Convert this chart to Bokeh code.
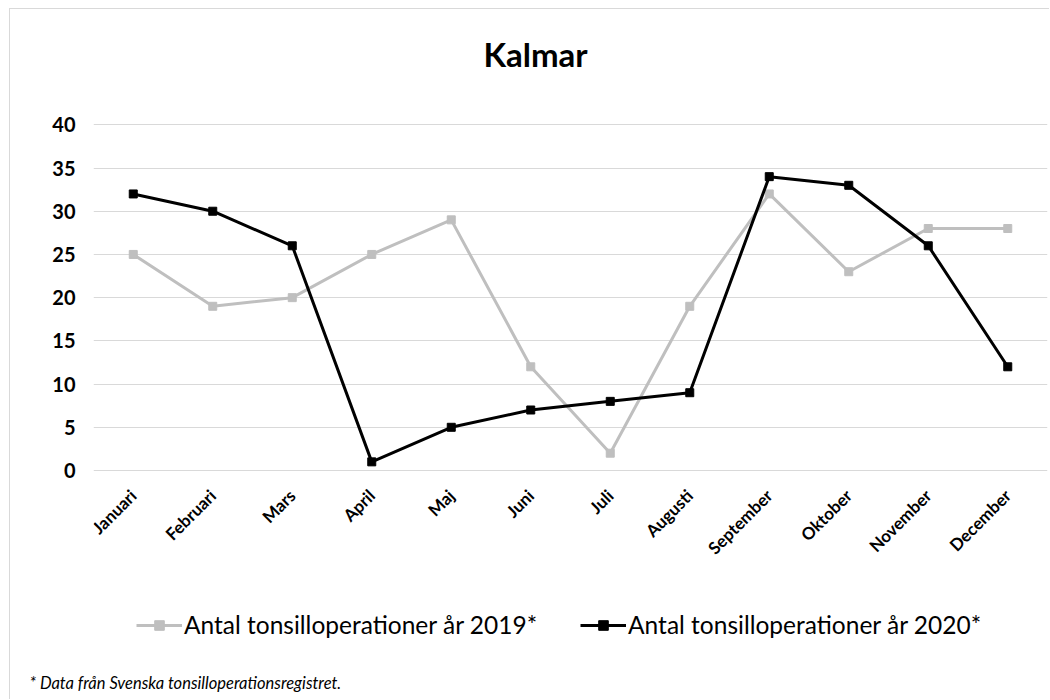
from bokeh.plotting import figure
from bokeh.models import Range1d, FactorRange, Legend, LegendItem, Title, Label, ColumnDataSource
from bokeh.core.properties import value
from bokeh.embed import file_html
from bokeh.resources import INLINE
from math import pi

months = ["Januari", "Februari", "Mars", "April", "Maj", "Juni", "Juli",
          "Augusti", "September", "Oktober", "November", "December"]
ops_2019 = [25, 19, 20, 25, 29, 12, 2, 19, 32, 23, 28, 28]
ops_2020 = [32, 30, 26, 1, 5, 7, 8, 9, 34, 33, 26, 12]
y_ticks = [0, 5, 10, 15, 20, 25, 30, 35, 40]
title_text = "Kalmar"
legend_2019 = "Antal tonsilloperationer år 2019*"
legend_2020 = "Antal tonsilloperationer år 2020*"
footnote = "* Data från Svenska tonsilloperationsregistret."

FONT = "Lato"

# frame spans page y 9..665 ; value 40 -> y 124.3, value 0 -> y 470
FRAME_BOTTOM = 665
PX_PER_UNIT = (470 - 124.3) / 40
Y_END = 40 + (124.3 - 9) / PX_PER_UNIT
Y_START = -(FRAME_BOTTOM - 470) / PX_PER_UNIT
MONTH_LABEL_Y = -22 / PX_PER_UNIT

p = figure(width=1040, height=691, x_range=FactorRange(*months), y_range=Range1d(Y_START, Y_END),
           output_backend="svg", toolbar_location=None, x_axis_location=None,
           min_border_left=83, min_border_right=3, min_border_top=0,
           min_border_bottom=700 - FRAME_BOTTOM)
p.styles = {"margin-left": "9px", "margin-top": "8px",
            "border-left": "1px solid #d9d9d9", "border-top": "1px solid #d9d9d9"}
p.outline_line_color = None
p.background_fill_color = "white"
p.border_fill_color = "white"

src = ColumnDataSource(dict(m=months, a=ops_2019, b=ops_2020))
l19 = p.line("m", "a", source=src, line_color="#bfbfbf", line_width=3)
s19 = p.scatter("m", "a", source=src, marker="square", size=8, fill_color="#bfbfbf", line_color="#bfbfbf")
l20 = p.line("m", "b", source=src, line_color="#000000", line_width=3)
s20 = p.scatter("m", "b", source=src, marker="square", size=8, fill_color="#000000", line_color="#000000")

# month tick labels (category axis), rotated 45 degrees
p.text(x="m", y=MONTH_LABEL_Y, text="m", source=src, angle=pi / 4,
       text_align="right", text_baseline="middle", text_font=value(FONT),
       text_font_style="bold", text_font_size="17px", text_color="#000000")

p.xgrid.visible = False
p.ygrid.grid_line_color = "#d9d9d9"
p.ygrid.grid_line_width = 1
p.yaxis.ticker = y_ticks
p.yaxis.axis_line_color = None
p.yaxis.major_tick_line_color = None
p.yaxis.minor_tick_line_color = None
p.yaxis.major_tick_out = 0
p.yaxis.major_label_standoff = 18
p.yaxis.major_label_text_font = FONT
p.yaxis.major_label_text_font_style = "bold"
p.yaxis.major_label_text_font_size = "20px"
p.yaxis.major_label_text_color = "#000000"

p.add_layout(Label(x=442, y=FRAME_BOTTOM - 53, x_units="screen", y_units="screen", text=title_text,
                   text_align="center", text_baseline="middle", text_font=FONT,
                   text_font_style="bold", text_font_size="33px", text_color="#000000"))

legend = Legend(items=[LegendItem(label=legend_2019, renderers=[l19, s19]),
                       LegendItem(label=legend_2020, renderers=[l20, s20])],
                orientation="horizontal", location=(43, FRAME_BOTTOM - 627 - 12),
                glyph_width=46, glyph_height=24, label_height=24, label_standoff=2,
                spacing=43, padding=0, margin=0,
                border_line_color=None, background_fill_alpha=0,
                label_text_font=FONT, label_text_font_size="24.5px", label_text_color="#000000")
p.add_layout(legend, "center")

foot = Title(text=footnote, align="left", offset=-64,
             text_font=FONT, text_font_style="italic", text_font_size="16.5px", text_color="#000000")
p.add_layout(foot, "below")

open("out.html", "w").write(file_html(p, INLINE))
